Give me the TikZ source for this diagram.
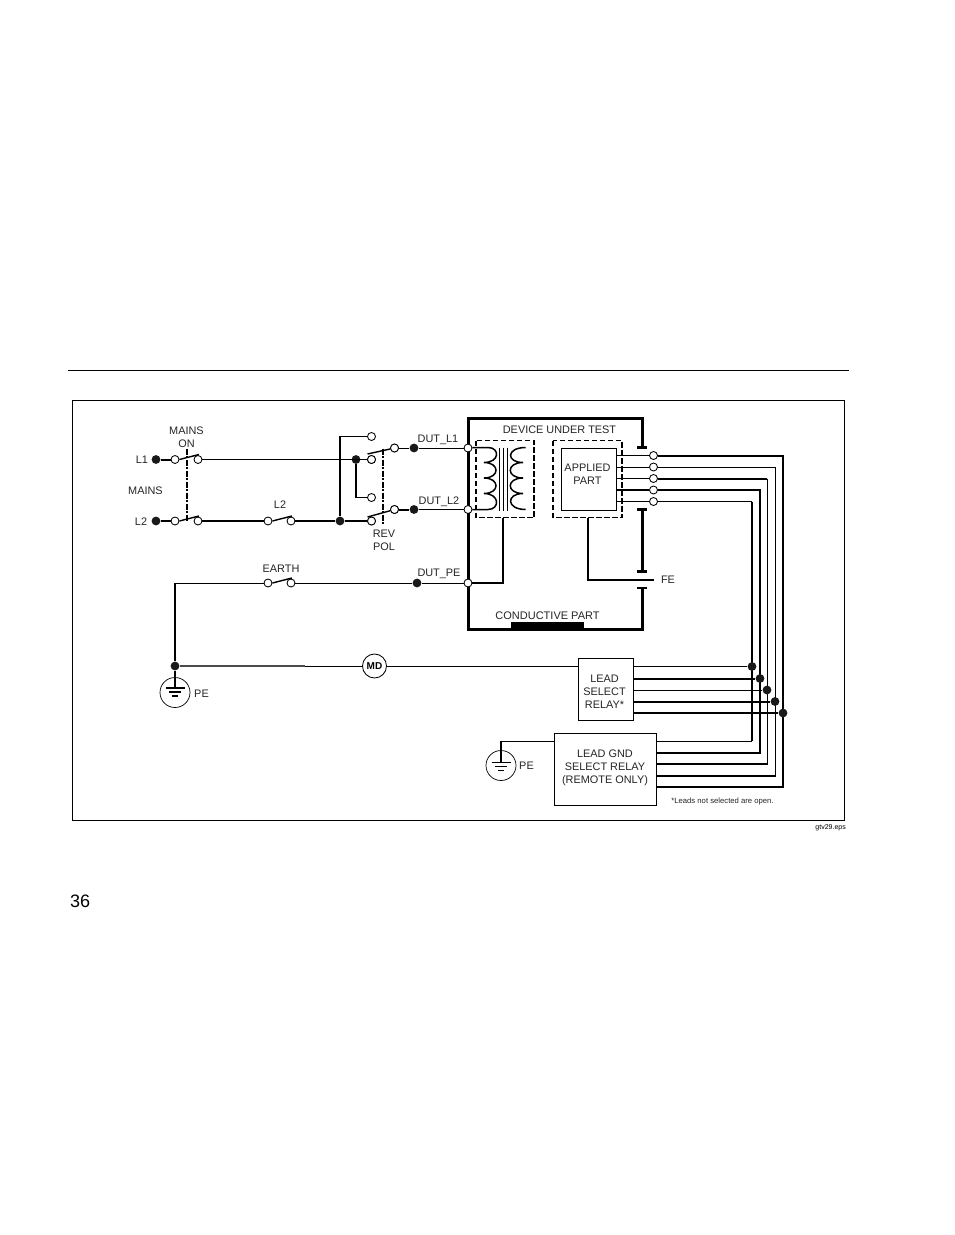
\documentclass[tikz,border=0pt]{standalone}
\usepackage{fontspec}
\setmainfont{Liberation Sans}
\begin{document}
\begin{tikzpicture}[x=1pt,y=-1pt,
  thinw/.style={line width=0.85pt},
  med/.style={line width=1.2pt},
  coil/.style={line width=1.5pt},
  thick2/.style={line width=2pt},
  heavy/.style={line width=3pt},
  opn/.style={circle,draw,thinw,fill=white,minimum size=8pt,inner sep=0pt},
  dotn/.style={circle,fill=black!90,minimum size=8.8pt,inner sep=0pt},
  lbl/.style={inner sep=0pt,font=\fontsize{10.9}{13}\selectfont,align=center,text=black!85,yshift=-1.3pt},
  boxn/.style={draw,thinw,fill=white,inner sep=0pt,anchor=north west},
  dsh/.style={line width=1.3pt,dash pattern=on 5.5pt off 2.5pt},
  gang/.style={line width=1.6pt,dash pattern=on 6pt off 1.5pt on 2pt off 1.5pt},
  arm/.style={line width=1.4pt}]
\useasboundingbox (0,0.5) rectangle (954,1235.5);
\fill[white] (0,0.5) rectangle (954,1235.5);
% page furniture
\coordinate (ruleL) at (68,371); \coordinate (ruleR) at (849,371);
\draw[line width=1pt] (ruleL) -- (ruleR);
\node[draw,thinw,minimum width=772pt,minimum height=420pt,anchor=north west,inner sep=0pt] (frame) at (72,400.3) {};
\node[inner sep=0pt,font=\fontsize{18}{20}\selectfont,anchor=west] (pageno) at (70,901.5) {36};
\node[inner sep=0pt,font=\fontsize{7}{8}\selectfont,anchor=east] (eps) at (846,828.5) {gtv29.eps};
% DUT enclosure
\coordinate (capA) at (642,448); \coordinate (capB) at (642,510);
\coordinate (capC) at (642,572); \coordinate (capD) at (642,588.5);
\coordinate (dutTL) at (468.5,418.5); \coordinate (dutTR) at (642,418.5);
\coordinate (dutBL) at (468.5,630); \coordinate (dutBR) at (642,630);
\draw[heavy,line join=miter] (capA) -- (dutTR) -- (dutTL) -- (dutBL) -- (dutBR) -- (capD);
\draw[heavy] (capB) -- (capC);
\foreach \c in {capA,capB,capC,capD}{\draw[line width=2.8pt] ([xshift=-5pt]\c) -- ([xshift=5pt]\c);}
\fill[black] (511,622) rectangle (584,630.5);
% main wiring
\node[dotn] (dL1) at (156,460) {};
\node[dotn] (dL2) at (156,521.5) {};
\node[opn] (sa1) at (175,460) {};
\node[opn] (sb1) at (198,460) {};
\node[opn] (sa2) at (175,521.5) {};
\node[opn] (sb2) at (198,521.5) {};
\node[opn] (sl2a) at (268,521.5) {};
\node[opn] (sl2b) at (291,521.5) {};
\node[dotn] (j2) at (340,521.5) {};
\node[dotn] (j1) at (356,460) {};
\node[opn] (r1) at (371.5,437) {};
\node[opn] (r2) at (371.5,460) {};
\node[opn] (r3) at (371.5,498) {};
\node[opn] (r4) at (371.5,521.5) {};
\node[opn] (ro1) at (394.5,448.5) {};
\node[opn] (ro2) at (394.5,510) {};
\node[dotn] (dd1) at (414,448.5) {};
\node[dotn] (dd2) at (414,510) {};
\node[opn] (t1) at (468,448.5) {};
\node[opn] (t2) at (468,510) {};
\node[opn] (t3) at (468,583.5) {};
\node[dotn] (dd3) at (417,583.5) {};
\node[opn] (ea) at (268,583.5) {};
\node[opn] (eb) at (291,583.5) {};
\coordinate (cnrE) at (175,583.5);
\coordinate (l1mid) at (310,460);
\coordinate (pemid) at (305,666.5);
\node[dotn] (jpe) at (175,666.5) {};
\node[circle,draw,thinw,minimum size=24pt,inner sep=0pt,font=\fontsize{10}{12}\selectfont\bfseries] (md) at (374.5,666.5) {MD};
\draw[thick2] (dL1) -- (sa1);
\draw[line width=1pt] (sb1) -- (l1mid);
\draw[line width=1.5pt] (l1mid) -- (r2);
\draw[thick2] (dL2) -- (sa2);
\draw[thick2] (sb2) -- (sl2a);
\draw[thick2] (sl2b) -- (j2) -- (r4);
\draw[med] (j2) -- (340,437) -- (r1);
\draw[line width=1.6pt] (j1) -- (356,498) -- (r3);
\draw[thinw] (ro1) -- (dd1);
\draw[thinw] (dd1) -- (t1);
\draw[thick2] (ro2) -- (dd2);
\draw[thinw] (dd2) -- (t2);
\draw[thinw] (t3) -- (dd3);
\draw[thinw] (dd3) -- (eb);
\draw[thinw] (ea) -- (cnrE);
\draw[thick2] (cnrE) -- (jpe);
\draw[line width=1.6pt,black!70] (jpe) -- (pemid);
\draw[thinw] (pemid) -- (md);
% switch arms
\draw[arm] (sa1.east) -- ++(19.5,-5);
\draw[arm] (sa2.east) -- ++(19.5,-5);
\draw[arm] (sl2a.east) -- ++(19.5,-5);
\draw[arm] (ea.east) -- ++(19.5,-5);
\draw[arm] (367.5,454.5) -- (ro1);
\draw[arm] (367.5,517.5) -- (ro2);
\node[opn] at (r2) {};
\node[opn] at (r4) {};
\node[opn] at (ro1) {};
\node[opn] at (ro2) {};
\draw[gang] (187,449) -- (187,521);
\draw[gang] (383,449) -- (383,524);
% transformer
\foreach \xx in {499.3,503.3,507.3}{\draw[line width=1.4pt] (\xx,448) -- (\xx,511);}
\coordinate (prA) at (488,448);
\draw[coil] (t1.east|-prA) -- (prA)
  .. controls (500,448) and (500,463) .. (484,463)
  .. controls (500,463) and (500,478.5) .. (484,478.5)
  .. controls (500,478.5) and (500,494) .. (484,494)
  .. controls (500,494) and (500,510) .. (488,510) -- (t2);
\draw[coil] (525.7,448)
  .. controls (506,448) and (506,463) .. (523,463)
  .. controls (506,463) and (506,478.5) .. (523,478.5)
  .. controls (506,478.5) and (506,494) .. (523,494)
  .. controls (506,494) and (506,510) .. (525.7,510);
\draw[dsh] (476,441) rectangle (534,518);
\draw[dsh] (553,441) rectangle (622,518);
\coordinate (xfB) at (503,518);
\coordinate (apB) at (588,518);
\coordinate (fe) at (654,580.5);
\draw[line width=1.5pt] (xfB) -- (503,583.5) -- (t3);
\draw[line width=1.7pt] (apB) -- (588,580.5) -- (fe);
% applied part and terminals
\node[boxn,minimum width=55pt,minimum height=62pt] (ap) at (561,448) {};
\node[lbl] at (587.5,473.5) {APPLIED\\PART};
\node[opn] (p1) at (653.5,456) {};
\node[opn] (p2) at (653.5,467.5) {};
\node[opn] (p3) at (653.5,479) {};
\node[opn] (p4) at (653.5,490.5) {};
\node[opn] (p5) at (653.5,502) {};
% relays
\node[boxn,minimum width=55pt,minimum height=62pt] (lsr) at (578,658.5) {};
\node[lbl] at (604.5,691) {LEAD\\SELECT\\RELAY*};
\node[boxn,minimum width=102pt,minimum height=72pt] (lgr) at (554,733.5) {};
\node[lbl] at (605,767) {LEAD GND\\SELECT RELAY\\(REMOTE ONLY)};
\draw[thinw] (md) -- (lsr.west|-md);
% bus verticals
\coordinate (b1) at (752,502); \coordinate (b2) at (760,490.5); \coordinate (b3) at (767,479);
\coordinate (b4) at (775,467.5); \coordinate (b5) at (783,456);
\draw[line width=1.6pt] (ap.east|-p1) -- (p1);
\draw[thinw] (ap.east|-p2) -- (p2);
\draw[line width=1.6pt] (ap.east|-p3) -- (p3);
\draw[line width=1.6pt] (ap.east|-p4) -- (p4);
\draw[thinw] (ap.east|-p5) -- (p5);
\draw[thick2,line join=miter] (p1) -- (b5) -- (783,787.5) -- (656,787.5);
\draw[thinw,line join=miter] (p2) -- (b4) -- (775,776);
\draw[thick2] (775.8,776) -- (656,776);
\draw[thick2,line join=miter] (p3) -- (b3);
\draw[thinw] (b3) -- (767,764.5);
\draw[thick2] (767.8,764.5) -- (656,764.5);
\draw[thick2,line join=miter] (p4) -- (b2) -- (760,753) -- (656,753);
\draw[thinw] (p5) -- (b1);
\draw[thick2] (b1) -- (752,741.5);
\draw[thinw] (752,741.5) -- (656,741.5);
\node[dotn] (x1) at (752,667) {};
\node[dotn] (x2) at (760,679) {};
\node[dotn] (x3) at (767,690.5) {};
\node[dotn] (x4) at (775,702) {};
\node[dotn] (x5) at (783,713.5) {};
\draw[thinw] (633,667) -- (x1);
\draw[thick2] (633,679) -- (x2);
\draw[thinw] (633,690.5) -- (x3);
\draw[thick2] (633,702) -- (x4);
\draw[thick2] (633,713.5) -- (x5);
% grounds
\node[circle,draw,line width=0.7pt,minimum size=30pt,inner sep=0pt] (gnd1) at (175,693) {};
\draw[thick2] (jpe) -- (175,688.5);
\draw[line width=1.2pt] (165.5,688.5) -- (184.5,688.5) (169,692.5) -- (181,692.5);
\draw[line width=1.2pt] (172,696.5) -- (178,696.5);
\node[circle,draw,line width=0.7pt,minimum size=30pt,inner sep=0pt] (gnd2) at (501,766) {};
\draw[thinw] (lgr.west|-0,741.5) -- (501,741.5);
\draw[thick2] (501,741) -- (501,763);
\draw[line width=1.2pt] (491.5,763) -- (510.5,763) (495,767) -- (507,767);
\draw[line width=1.2pt] (498,771) -- (504,771);
% labels
\node[lbl] at (186.5,436.5) {MAINS\\ON};
\node[lbl] at (142,459) {L1};
\node[lbl] at (145.5,490) {MAINS};
\node[lbl] at (141,521) {L2};
\node[lbl] at (280,504) {L2};
\node[lbl] at (384,539.5) {REV\\POL};
\node[lbl] at (438,439) {DUT\_L1};
\node[lbl] at (439,501) {DUT\_L2};
\node[lbl] at (439,573) {DUT\_PE};
\node[lbl] at (281,568) {EARTH};
\node[lbl] at (559.5,429) {DEVICE UNDER TEST};
\node[lbl] at (668,579) {FE};
\node[lbl,font=\fontsize{11}{13}\selectfont] at (547.5,615) {CONDUCTIVE PART};
\node[lbl] at (201.5,693) {PE};
\node[lbl] at (526.5,765) {PE};
\node[inner sep=0pt,font=\fontsize{7.7}{9}\selectfont,text=black!85] at (722.5,802) {*Leads not selected are open.};
\end{tikzpicture}
\end{document}
